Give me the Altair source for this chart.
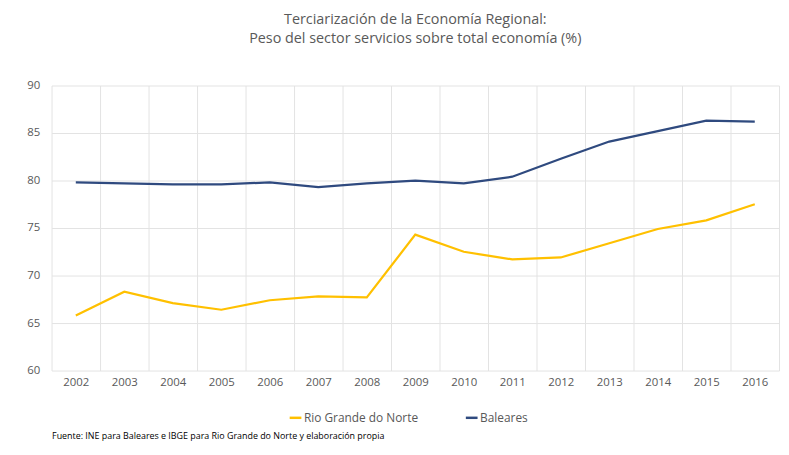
import altair as alt
import pandas as pd

years = [str(y) for y in range(2002, 2017)]
rio = [65.8, 68.3, 67.1, 66.4, 67.4, 67.8, 67.7, 74.3, 72.5, 71.7, 71.9, 73.4, 74.9, 75.8, 77.5]
baleares = [79.8, 79.7, 79.6, 79.6, 79.8, 79.3, 79.7, 80.0, 79.7, 80.4, 82.3, 84.1, 85.2, 86.3, 86.2]
series_names = ["Rio Grande do Norte", "Baleares"]
colors = ["#FFC000", "#2F4A7F"]
footnote = "Fuente: INE para Baleares e IBGE para Rio Grande do Norte y elaboración propia"

rows = []
for y, v in zip(years, rio):
    rows.append({"year": y, "value": v, "series": series_names[0]})
for y, v in zip(years, baleares):
    rows.append({"year": y, "value": v, "series": series_names[1]})
df = pd.DataFrame(rows)

FONT = "Open Sans"
GRAY = "#595959"

chart = alt.Chart(df).mark_line(strokeWidth=2.25).encode(
    x=alt.X("year:N", sort=years,
            scale=alt.Scale(type="band", paddingInner=0, paddingOuter=0),
            axis=alt.Axis(title=footnote, titleAnchor="start", titleAlign="left",
                          titleX=0, titleY=66, titleBaseline="middle",
                          titleFontSize=9, titleFontWeight="normal", titleColor="#000000",
                          titleFont=FONT,
                          labelAngle=0, labelFontSize=11.5, labelColor=GRAY, labelFont=FONT,
                          labelPadding=6, ticks=False, domain=False, tickBand="extent",
                          grid=True, gridColor="#e3e3e3", gridWidth=1)),
    y=alt.Y("value:Q", scale=alt.Scale(domain=[60, 90], nice=False, zero=False),
            axis=alt.Axis(title=None, values=[60, 65, 70, 75, 80, 85, 90],
                          labelFontSize=11.5, labelColor=GRAY, labelFont=FONT,
                          labelPadding=12, ticks=False, domain=False,
                          grid=True, gridColor="#e3e3e3", gridWidth=1)),
    color=alt.Color("series:N",
                    scale=alt.Scale(domain=series_names, range=colors),
                    legend=alt.Legend(title=None, orient="none", direction="horizontal",
                                      legendX=239, legendY=328,
                                      symbolType="stroke", symbolStrokeWidth=2.5,
                                      symbolSize=140, labelFontSize=12, labelColor=GRAY,
                                      labelFont=FONT, labelOffset=1, columnPadding=42)),
).properties(
    width=735,
    height=288,
    title=alt.TitleParams(
        text=["Terciarización de la Economía Regional:",
              "Peso del sector servicios sobre total economía (%)"],
        fontSize=14.5, font=FONT, fontWeight="normal", color=GRAY,
        lineHeight=20, anchor="middle", offset=33),
    autosize=alt.AutoSizeParams(type="none"),
    padding={"left": 44, "top": 76, "right": 2, "bottom": 82},
).configure_view(stroke=None)

chart.save("out.html", embed_options={"renderer": "svg", "actions": False})
